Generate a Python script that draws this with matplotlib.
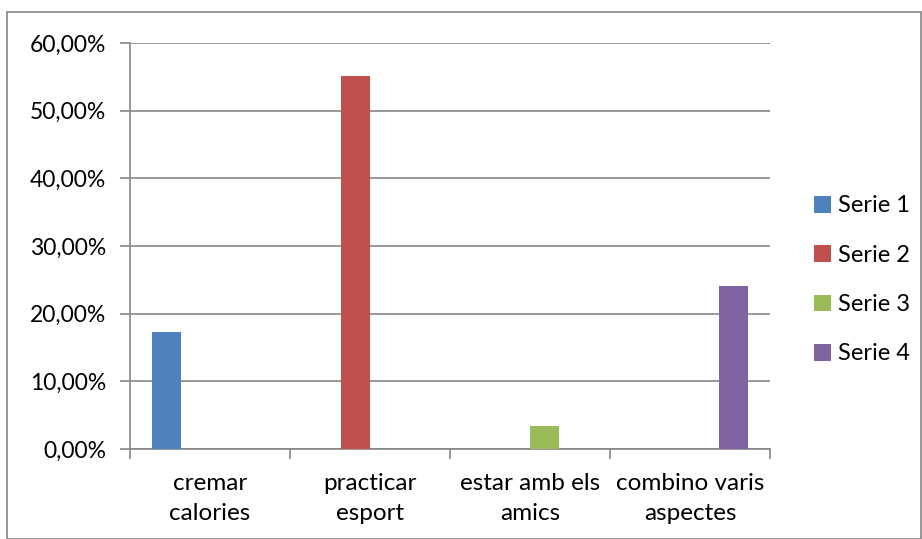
import numpy as np
import matplotlib.pyplot as plt
from matplotlib.patches import Rectangle
from matplotlib.ticker import FuncFormatter

plt.rcParams['font.family'] = ['Lato', 'DejaVu Sans']

categories = ['cremar\ncalories', 'practicar\nesport', 'estar amb els\namics', 'combino varis\naspectes']
series_names = ['Serie 1', 'Serie 2', 'Serie 3', 'Serie 4']
# each series has a value only in its own category
serie_1 = [17.24, 0, 0, 0]
serie_2 = [0, 55.17, 0, 0]
serie_3 = [0, 0, 3.45, 0]
serie_4 = [0, 0, 0, 24.14]
colors = ['#4f81bd', '#c0504d', '#9bbb59', '#8064a2']

fig = plt.figure(figsize=(9.22, 5.39), dpi=100)
ax = fig.add_axes([130 / 922, 1 - 449 / 539, 640 / 922, 406 / 539])

# chart border
fig.patches.append(Rectangle((7 / 922, 0), 1 - 7 / 922 - 0.001, 1 - 12 / 539,
                             transform=fig.transFigure, fill=False,
                             edgecolor='#868686', linewidth=1.2))

x = np.arange(len(categories))
w = 1 / 5.5
for i, (vals, name) in enumerate(zip([serie_1, serie_2, serie_3, serie_4], series_names)):
    ax.bar(x + (i - 1.5) * w, vals, w, color=colors[i], label=name, zorder=3)

ax.set_xlim(-0.5, 3.5)
ax.set_ylim(0, 60)
ax.set_yticks(np.arange(0, 61, 10))
ax.yaxis.set_major_formatter(FuncFormatter(lambda v, p: f'{v:.2f}%'.replace('.', ',')))
ax.grid(axis='y', color='#868686', linewidth=1.2, zorder=0)

ax.set_xticks(x)
ax.set_xticklabels(categories, fontsize=17.5, linespacing=1.55)
ax.set_xticks(np.arange(-0.5, 4, 1), minor=True)
ax.tick_params(axis='x', which='major', length=0, pad=17)
ax.tick_params(axis='x', which='minor', length=7, color='#868686', width=1.2)
ax.tick_params(axis='y', length=7, color='#868686', width=1.2, labelsize=16.5, pad=10)

for s in ['top', 'right']:
    ax.spines[s].set_visible(False)
for s in ['left', 'bottom']:
    ax.spines[s].set_color('#868686')
    ax.spines[s].set_linewidth(1.2)

ax.legend(loc='center left', bbox_to_anchor=(793 / 922, 1 - 280 / 539),
          bbox_transform=fig.transFigure, frameon=False, fontsize=17,
          handlelength=0.7, handleheight=0.7, handletextpad=0.3, labelspacing=1.2)

fig.savefig('out.png', dpi=100)
